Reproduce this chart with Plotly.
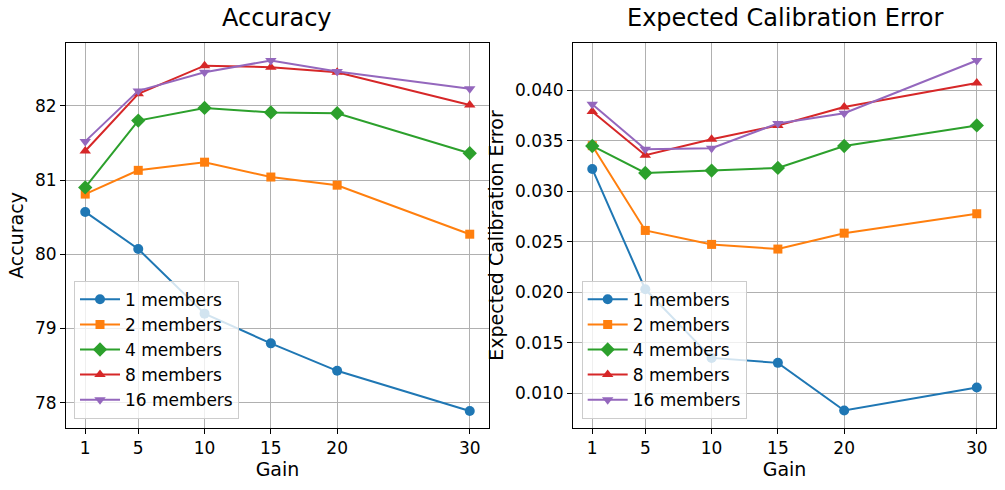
import plotly.graph_objects as go

gain = [1, 5, 10, 15, 20, 30]
gain_ticks = [1, 5, 10, 15, 20, 30]
labels = ["1 members", "2 members", "4 members", "8 members", "16 members"]

acc_1 = [80.57, 80.07, 79.20, 78.80, 78.43, 77.89]
acc_2 = [80.81, 81.13, 81.24, 81.04, 80.93, 80.27]
acc_4 = [80.90, 81.80, 81.97, 81.91, 81.90, 81.36]
acc_8 = [81.39, 82.16, 82.54, 82.52, 82.45, 82.01]
acc_16 = [81.52, 82.20, 82.45, 82.61, 82.46, 82.23]

ece_1 = [0.0322, 0.0203, 0.01352, 0.01303, 0.00832, 0.01059]
ece_2 = [0.0345, 0.02612, 0.02474, 0.02428, 0.02585, 0.02777]
ece_4 = [0.03447, 0.0318, 0.03204, 0.0323, 0.03447, 0.0365]
ece_8 = [0.03787, 0.03356, 0.03513, 0.0365, 0.03833, 0.04069]
ece_16 = [0.03859, 0.03415, 0.03425, 0.0367, 0.0377, 0.04292]

acc_series = [acc_1, acc_2, acc_4, acc_8, acc_16]
ece_series = [ece_1, ece_2, ece_4, ece_8, ece_16]

colors = ["#1f77b4", "#ff7f0e", "#2ca02c", "#d62728", "#9467bd"]
symbols = ["circle", "square", "diamond", "triangle-up", "triangle-down"]
msizes = [10, 9, 11, 10, 10]

FONT = "DejaVu Sans"
fig = go.Figure()

for i in range(5):
    fig.add_trace(go.Scatter(
        x=gain, y=acc_series[i], mode="lines+markers", name=labels[i],
        line=dict(color=colors[i], width=2),
        marker=dict(symbol=symbols[i], size=msizes[i], color=colors[i]),
        xaxis="x", yaxis="y", legend="legend"))
for i in range(5):
    fig.add_trace(go.Scatter(
        x=gain, y=ece_series[i], mode="lines+markers", name=labels[i],
        line=dict(color=colors[i], width=2),
        marker=dict(symbol=symbols[i], size=msizes[i], color=colors[i]),
        xaxis="x2", yaxis="y2", legend="legend2"))

axis_common = dict(
    showline=True, linecolor="black", linewidth=1, mirror=True,
    showgrid=True, gridcolor="#b0b0b0", gridwidth=1,
    ticks="outside", ticklen=5, tickwidth=1, tickcolor="black",
    tickfont=dict(family=FONT, size=17, color="black"),
    zeroline=False, automargin=False,
)

xl = 0.4548
xr = 0.5452

legend_common = dict(
    xanchor="left", yanchor="bottom", xref="paper", yref="paper",
    bgcolor="rgba(255,255,255,0.8)", bordercolor="#cccccc", borderwidth=1,
    font=dict(family=FONT, size=17, color="black"), tracegroupgap=0, itemwidth=40,
)

fig.update_layout(
    width=1005, height=490,
    margin=dict(l=66, r=9, t=43, b=62),
    paper_bgcolor="white", plot_bgcolor="white",
    font=dict(family=FONT, color="black"),
    showlegend=True,
    xaxis=dict(domain=[0, xl], range=[-0.45, 31.45], tickvals=gain_ticks,
               title=dict(text="Gain", font=dict(size=19), standoff=4), anchor="y", **axis_common),
    yaxis=dict(domain=[0, 1], range=[77.66, 82.845], tickvals=[78, 79, 80, 81, 82],
               title=dict(text="Accuracy", font=dict(size=19), standoff=6), anchor="x", **axis_common),
    xaxis2=dict(domain=[xr, 1], range=[-0.45, 31.45], tickvals=gain_ticks,
                title=dict(text="Gain", font=dict(size=19), standoff=4), anchor="y2", **axis_common),
    yaxis2=dict(domain=[0, 1], range=[0.00659, 0.04465],
                tickvals=[0.010, 0.015, 0.020, 0.025, 0.030, 0.035, 0.040], tickformat=".3f",
                title=dict(text="Expected Calibration Error", font=dict(size=19), standoff=6),
                anchor="x2", **axis_common),
    legend=dict(x=0.0086, y=0.024, **legend_common),
    legend2=dict(x=0.5545, y=0.024, **legend_common),
    annotations=[
        dict(text="Accuracy", x=xl / 2, y=1.065, xref="paper", yref="paper",
             xanchor="center", yanchor="middle", showarrow=False,
             font=dict(family=FONT, size=24, color="black")),
        dict(text="Expected Calibration Error", x=(xr + 1) / 2, y=1.065, xref="paper", yref="paper",
             xanchor="center", yanchor="middle", showarrow=False,
             font=dict(family=FONT, size=24, color="black")),
    ],
)

fig.write_html("out.html", config={"displayModeBar": False},
               post_script="document.body.style.margin='0';document.body.style.overflow='hidden';")
